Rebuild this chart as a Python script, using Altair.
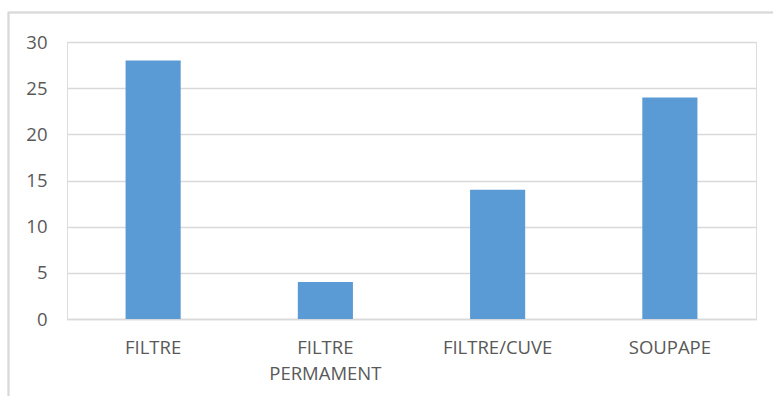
import altair as alt
import pandas as pd

categories = ["FILTRE", "FILTRE PERMAMENT", "FILTRE/CUVE", "SOUPAPE"]
counts = [28, 4, 14, 24]

df = pd.DataFrame({"categorie": categories, "nombre": counts})

# split the long category name onto two lines
label_expr = (
    "datum.value == 'FILTRE PERMAMENT' ? ['FILTRE', 'PERMAMENT'] : datum.value"
)

text_color = "#595959"
font = "Open Sans"
font_size = 18.5

bars = alt.Chart(df).mark_bar(color="#5B9BD5").encode(
    x=alt.X(
        "categorie:N",
        sort=categories,
        title=None,
        scale=alt.Scale(paddingInner=0.68, paddingOuter=0.34),
        axis=alt.Axis(
            labelAngle=0,
            labelExpr=label_expr,
            labelColor=text_color,
            labelFont=font,
            labelFontSize=font_size,
            labelLineHeight=26,
            labelPadding=19,
            ticks=False,
            domain=True,
            domainColor="#d9d9d9",
            domainWidth=1.5,
            grid=False,
        ),
    ),
    y=alt.Y(
        "nombre:Q",
        title=None,
        scale=alt.Scale(domain=[0, 30], nice=False),
        axis=alt.Axis(
            values=[0, 5, 10, 15, 20, 25, 30],
            labelColor=text_color,
            labelFont=font,
            labelFontSize=font_size,
            labelPadding=20,
            ticks=False,
            domain=False,
            grid=True,
            gridColor="#d9d9d9",
            gridWidth=1.5,
        ),
    ),
)

# outer chart frame (runs past the right and bottom edges)
frame = alt.Chart(df).mark_rect(
    fill=None, stroke="#d9d9d9", strokeWidth=1.5
).encode(
    x=alt.value(-58.5),
    x2=alt.value(800),
    y=alt.value(-29.5),
    y2=alt.value(400),
)

chart = alt.layer(frame, bars).properties(
    width=689,
    height=277,
    padding={"left": 67, "top": 42, "right": 17, "bottom": 77},
    autosize=alt.AutoSizeParams(type="none"),
).configure_view(stroke=None).configure(background="white")

chart.save("out.html", embed_options={"renderer": "svg", "actions": False})
